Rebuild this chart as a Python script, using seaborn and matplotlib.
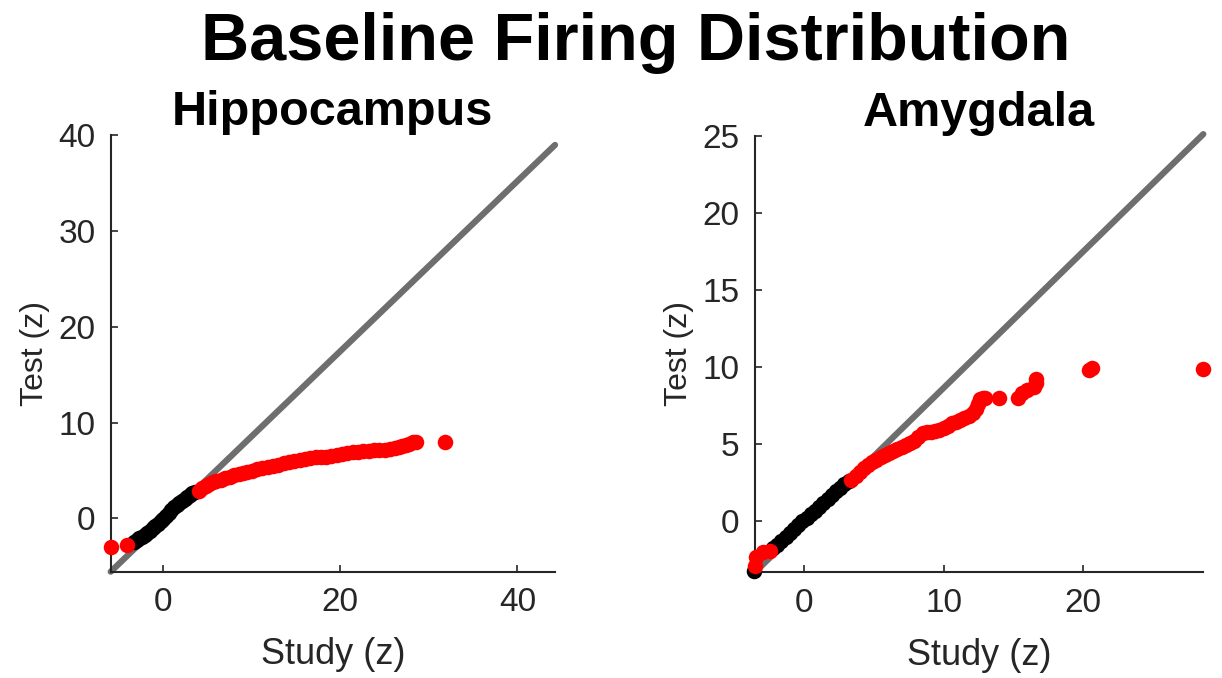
import numpy as np
import pandas as pd
import matplotlib
matplotlib.use("Agg")
import matplotlib.pyplot as plt
import seaborn as sns

# values (z-scores)
hip_black_x = [-3.3, -3.0, -2.7, -2.4, -2.1, -1.8, -1.5, -1.2, -0.9, -0.6, -0.3, 0.0,
               0.3, 0.6, 0.9, 1.2, 1.5, 1.8, 2.1, 2.4, 2.7, 3.0, 3.3, 3.6]
hip_black_y = [-2.5, -2.3, -2.1, -1.9, -1.75, -1.55, -1.3, -1.05, -0.8, -0.55, -0.3, -0.05,
               0.25, 0.55, 0.85, 1.15, 1.4, 1.65, 1.85, 2.05, 2.25, 2.45, 2.6, 2.75]
hip_red_x = [-5.9, -4.1,
             4.0, 4.4, 4.8, 5.2, 5.6, 6.0, 6.5, 7.0, 7.5, 8.0, 8.5, 9.0, 9.5, 10.0, 10.6,
             11.2, 11.8, 12.4, 13.0, 13.6, 14.2, 14.8, 15.4, 16.0, 16.6, 17.2, 17.8, 18.4,
             19.0, 19.6, 20.2, 20.8, 21.4, 22.0, 22.6, 23.2, 23.8, 24.4, 25.0, 25.6, 26.2,
             26.6, 27.0, 27.4, 27.8, 28.2, 28.5, 31.8]
hip_red_y = [-3.0, -2.8,
             2.9, 3.2, 3.4, 3.6, 3.75, 3.9, 4.05, 4.2, 4.35, 4.5, 4.6, 4.7, 4.85, 4.95, 5.1,
             5.25, 5.4, 5.5, 5.6, 5.75, 5.85, 5.95, 6.05, 6.15, 6.25, 6.35, 6.45, 6.4,
             6.5, 6.65, 6.75, 6.85, 6.9, 6.95, 7.0, 7.05, 7.1, 7.1, 7.15, 7.2, 7.3,
             7.45, 7.6, 7.7, 7.8, 7.95, 8.0, 8.0]
hip_ref_x = [-5.94, 44.26]
hip_ref_y = [-5.57, 38.97]

amy_black_x = [-3.6, -2.2, -1.9, -1.6, -1.3, -1.0, -0.7, -0.4, -0.1, 0.2, 0.5, 0.8, 1.1,
               1.4, 1.7, 2.0, 2.3, 2.6, 2.9, 3.2]
amy_black_y = [-3.2, -1.75, -1.5, -1.25, -1.0, -0.75, -0.5, -0.25, 0.0, 0.2, 0.45, 0.7, 0.95,
               1.2, 1.45, 1.7, 1.95, 2.15, 2.4, 2.6]
amy_red_x = [-3.5, -3.4, -2.9, -2.4,
             3.4, 3.7, 4.0, 4.3, 4.6, 4.9, 5.2, 5.5, 5.8, 6.1, 6.4, 6.7, 7.0, 7.3, 7.6,
             7.9, 8.2, 8.5, 8.8, 9.1, 9.4, 9.7, 10.0, 10.3, 10.6, 10.9, 11.2, 11.5, 11.8,
             12.1, 12.3, 12.5, 12.6, 12.8, 13.0, 14.0, 15.3, 15.6, 16.0, 16.5, 16.6, 16.6,
             20.4, 20.6, 28.6]
amy_red_y = [-2.9, -2.3, -2.0, -1.95,
             2.7, 2.95, 3.2, 3.45, 3.65, 3.85, 4.0, 4.15, 4.3, 4.45, 4.55, 4.7, 4.85, 4.95, 5.05,
             5.2, 5.45, 5.7, 5.8, 5.8, 5.85, 5.95, 6.05, 6.2, 6.35, 6.45, 6.55, 6.7, 6.85,
             7.0, 7.3, 7.6, 7.9, 8.0, 8.0, 8.0, 8.0, 8.3, 8.5, 8.7, 9.0, 9.2,
             9.8, 9.95, 9.9]
amy_ref_x = [-3.5, 28.6]
amy_ref_y = [-3.3, 25.1]

sns.set_theme(style="ticks")
plt.rcParams['font.family'] = ['Liberation Sans', 'DejaVu Sans']

axis_col = '#262626'
fig = plt.figure(figsize=(12.22, 6.78), dpi=100)
fig.text(0.52, 0.937, 'Baseline Firing Distribution', ha='center', va='center',
         fontsize=48, fontweight='bold', color='black')

panels = [
    dict(name='Hippocampus', pos=[0.0906, 0.1568, 0.3636, 0.644],
         bx=hip_black_x, by=hip_black_y, rx=hip_red_x, ry=hip_red_y,
         lx=hip_ref_x, ly=hip_ref_y, xlim=(-5.94, 44.26), ylim=(-5.57, 40),
         xticks=[0, 20, 40], yticks=[0, 10, 20, 30, 40]),
    dict(name='Amygdala', pos=[0.6178, 0.1559, 0.3669, 0.644],
         bx=amy_black_x, by=amy_black_y, rx=amy_red_x, ry=amy_red_y,
         lx=amy_ref_x, ly=amy_ref_y, xlim=(-3.5, 28.6), ylim=(-3.3, 25),
         xticks=[0, 10, 20], yticks=[0, 5, 10, 15, 20, 25]),
]

for p in panels:
    ax = fig.add_axes(p['pos'])
    ref = pd.DataFrame({'x': p['lx'], 'y': p['ly']})
    sns.lineplot(data=ref, x='x', y='y', ax=ax, color='#6e6e6e', linewidth=4.5,
                 zorder=1, clip_on=False)
    blk = pd.DataFrame({'x': p['bx'], 'y': p['by']})
    red = pd.DataFrame({'x': p['rx'], 'y': p['ry']})
    sns.scatterplot(data=blk, x='x', y='y', ax=ax, color='black', s=125,
                    linewidth=0, zorder=2, clip_on=False)
    sns.scatterplot(data=red, x='x', y='y', ax=ax, color='#ff0000', s=125,
                    linewidth=0, zorder=3, clip_on=False)
    ax.set_xlim(*p['xlim'])
    ax.set_ylim(*p['ylim'])
    ax.set_xticks(p['xticks'])
    ax.set_yticks(p['yticks'])
    sns.despine(ax=ax)
    for s in ['left', 'bottom']:
        ax.spines[s].set_color(axis_col)
        ax.spines[s].set_linewidth(1.5)
    ax.tick_params(direction='in', length=5, width=1.2, colors=axis_col,
                   labelsize=24, pad=11)
    ax.set_xlabel('Study (z)', fontsize=26, color=axis_col, labelpad=14)
    ax.set_ylabel('Test (z)', fontsize=23, color=axis_col, labelpad=6)
    ax.set_title(p['name'], fontsize=35, fontweight='bold', color='black', pad=0)

fig.savefig('out.png', dpi=100)
